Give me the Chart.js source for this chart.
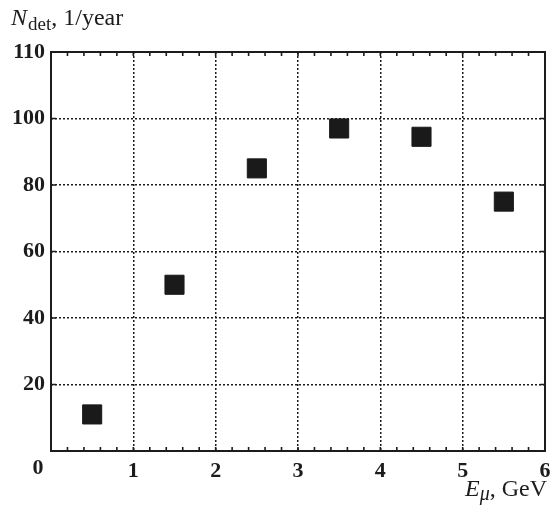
<!DOCTYPE html>
<html>
<head>
<meta charset="utf-8">
<script src="https://cdn.jsdelivr.net/npm/chart.js@4"></script>
<style>
  html, body { margin: 0; padding: 0; background: #fff; overflow: hidden; }
  #wrap { width: 552px; height: 509px; position: relative; }
  canvas { display: block; }
</style>
</head>
<body>
<div id="wrap"><canvas id="chart"></canvas></div>
<script>
// Data
const energies = [0.5, 1.5, 2.5, 3.5, 4.5, 5.5];      // E_mu, GeV
const detections = [11, 50, 85, 97, 94.5, 75];        // N_det, 1/year

// Tick labels (the top of the axis is printed as "110" in the original)
const yTickValues = [0, 20, 40, 60, 80, 100, 120];
const yTickLabels = ['', '20', '40', '60', '80', '100', '110'];
const xTickValues = [0, 1, 2, 3, 4, 5, 6];
const xTickLabels = ['', '1', '2', '3', '4', '5', '6'];
const originLabel = '0';

const serif = '"Liberation Serif", "DejaVu Serif", serif';
const ink = '#1c1c1c';

// Draws frame, inward ticks, axis titles and origin label
const decorations = {
  id: 'decorations',
  afterDraw(chart) {
    const { ctx, chartArea: a, scales: { x, y } } = chart;
    ctx.save();
    ctx.strokeStyle = ink;
    ctx.lineWidth = 1.6;
    ctx.setLineDash([]);

    // y major ticks, inward, left and right
    yTickValues.forEach(v => {
      const py = y.getPixelForValue(v);
      ctx.beginPath();
      ctx.moveTo(a.left, py); ctx.lineTo(a.left + 5, py);
      ctx.moveTo(a.right, py); ctx.lineTo(a.right - 5, py);
      ctx.stroke();
    });

    // x minor ticks, inward, bottom and top
    for (let i = 0; i <= 30; i++) {
      const px = x.getPixelForValue(i / 5);
      ctx.beginPath();
      ctx.moveTo(px, a.bottom); ctx.lineTo(px, a.bottom - 4);
      ctx.moveTo(px, a.top); ctx.lineTo(px, a.top + 4);
      ctx.stroke();
    }

    // frame
    ctx.lineWidth = 2;
    ctx.strokeRect(a.left, a.top, a.right - a.left, a.bottom - a.top);

    ctx.fillStyle = ink;
    ctx.textBaseline = 'alphabetic';

    // origin label
    ctx.font = 'bold 22px ' + serif;
    ctx.textAlign = 'center';
    ctx.fillText(originLabel, x.getPixelForValue(0) - 13, 474);

    // y title: N_det, 1/year
    ctx.textAlign = 'left';
    let tx = 11;
    ctx.font = 'italic 24px ' + serif;
    ctx.fillText('N', tx, 25);
    tx += ctx.measureText('N').width + 1;
    ctx.font = '19px ' + serif;
    ctx.fillText('det', tx, 30);
    tx += ctx.measureText('det').width;
    ctx.font = '24px ' + serif;
    ctx.fillText(', 1/year', tx, 25);

    // x title: E_mu, GeV
    tx = 465;
    ctx.font = 'italic 24px ' + serif;
    ctx.fillText('E', tx, 496);
    tx += ctx.measureText('E').width;
    ctx.font = 'italic 20px ' + serif;
    ctx.fillText('\u03bc', tx, 500);
    tx += ctx.measureText('\u03bc').width;
    ctx.font = '24px ' + serif;
    ctx.fillText(', GeV', tx, 496);

    ctx.restore();
  }
};

new Chart(document.getElementById('chart'), {
  type: 'scatter',
  data: {
    datasets: [{
      data: energies.map((e, i) => ({ x: e, y: detections[i] })),
      pointStyle: 'rect',
      pointRadius: 13.5,
      pointHoverRadius: 13.5,
      backgroundColor: '#1a1a1a',
      borderColor: '#1a1a1a',
      borderWidth: 1
    }]
  },
  options: {
    responsive: true,
    maintainAspectRatio: false,
    animation: false,
    layout: { autoPadding: false, padding: { left: 0, top: 52, right: 7, bottom: 0 } },
    plugins: { legend: { display: false }, tooltip: { enabled: false } },
    scales: {
      x: {
        type: 'linear',
        min: 0, max: 6,
        afterFit: s => { s.height = 58; s.paddingLeft = 0; s.paddingRight = 0; },
        afterBuildTicks: s => { s.ticks = xTickValues.map(v => ({ value: v })); },
        grid: { color: ink, lineWidth: 1.5, drawTicks: false },
        border: { display: false, dash: [2, 2] },
        ticks: {
          padding: 7,
          color: ink,
          font: { family: serif, size: 22, weight: 'bold' },
          callback: v => xTickLabels[xTickValues.indexOf(v)]
        }
      },
      y: {
        type: 'linear',
        min: 0, max: 120,
        afterFit: s => { s.width = 51; s.paddingTop = 0; s.paddingBottom = 0; },
        afterBuildTicks: s => { s.ticks = yTickValues.map(v => ({ value: v })); },
        grid: { color: ink, lineWidth: 1.5, drawTicks: false },
        border: { display: false, dash: [2, 2] },
        ticks: {
          padding: 6,
          color: ink,
          font: { family: serif, size: 22, weight: 'bold' },
          callback: v => yTickLabels[yTickValues.indexOf(v)]
        }
      }
    }
  },
  plugins: [decorations]
});
</script>
</body>
</html>
